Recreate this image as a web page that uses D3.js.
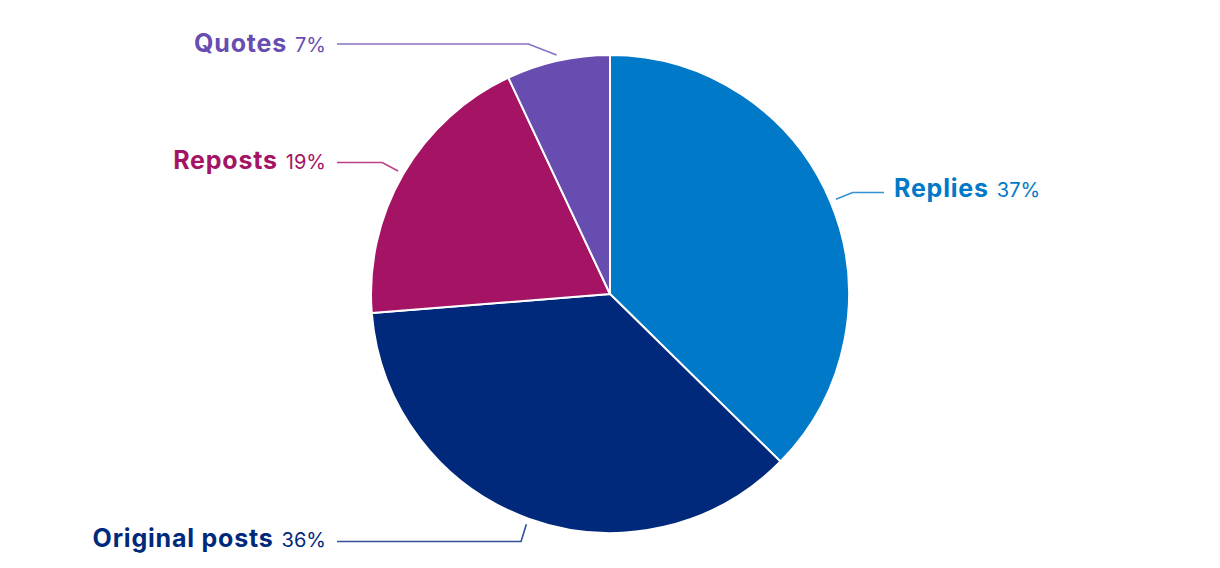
<!DOCTYPE html>
<html><head><meta charset="utf-8">
<script src="https://cdn.jsdelivr.net/npm/d3@7"></script>
<style>body{margin:0;background:#fff;} text{font-family:"Inter","Noto Sans",sans-serif;}</style>
</head><body>
<svg id="c" width="1220" height="568"></svg>
<script>
const categories = ["Replies", "Original posts", "Reposts", "Quotes"];
const values = [37.4, 36.4, 19.3, 7.0];
const percentLabels = ["37%", "36%", "19%", "7%"];
const colors = ["#0079c8", "#00297b", "#a51364", "#684db1"];
const lineColors = ["#3393d4", "#334f97", "#b94284", "#8671c1"];
// layout
const lineY = [192.5, 541.5, 162.5, 44];
const textY = [197, 547, 169, 52];

const svg = d3.select("#c");
const cx = 610, cy = 294, r = 239;
const g = svg.append("g").attr("transform", `translate(${cx},${cy})`);
const pie = d3.pie().sort(null).value(d => d);
const arcs = pie(values);
const arc = d3.arc().innerRadius(0).outerRadius(r);
g.selectAll("path.s").data(arcs).join("path").attr("class","s")
  .attr("d", arc).attr("fill", (d,i)=>colors[i])
  .attr("stroke", "#fff").attr("stroke-width", 2).attr("stroke-linejoin","round");

arcs.forEach((d,i) => {
  const a = (d.startAngle + d.endAngle)/2;
  const x0 = (r+6)*Math.sin(a), y0 = -(r+6)*Math.cos(a);
  const right = Math.sin(a) > 0;
  const ly = lineY[i] - cy;
  const R2 = 263;
  const ex = (right ? 1 : -1) * Math.sqrt(Math.max(0, R2*R2 - ly*ly));
  const endX = right ? 884 - cx : 337 - cx;
  g.append("polyline")
    .attr("points", `${x0},${y0} ${ex},${ly} ${endX},${ly}`)
    .attr("fill","none").attr("stroke", lineColors[i]).attr("stroke-width", 1.6);
  const t = g.append("text")
    .attr("x", right ? 894 - cx : 326 - cx)
    .attr("y", textY[i] - cy)
    .attr("text-anchor", right ? "start" : "end")
    .attr("fill", colors[i]);
  t.append("tspan").attr("font-weight", 700).attr("font-size", 25).attr("letter-spacing", 0.8).text(categories[i]);
  t.append("tspan").attr("font-size", 20).attr("font-weight", 400).attr("letter-spacing", 0).attr("dx", 8).text(percentLabels[i]);
});
</script>
</body></html>
